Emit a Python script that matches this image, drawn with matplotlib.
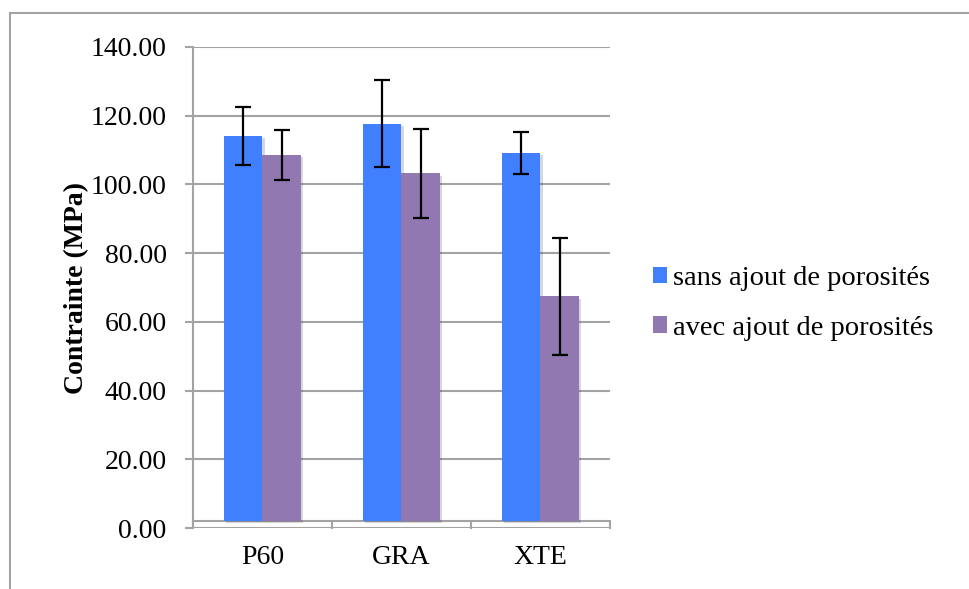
import numpy as np
import matplotlib
matplotlib.use("Agg")
import matplotlib.pyplot as plt
from matplotlib.patches import Patch
from matplotlib.lines import Line2D
import matplotlib.patheffects as pe

# data
categories = ["P60", "GRA", "XTE"]
series_names = ["sans ajout de porosités", "avec ajout de porosités"]
sans_vals = [114.2, 117.7, 109.1]
sans_err = [8.4, 12.7, 6.1]
avec_vals = [108.6, 103.2, 67.4]
avec_err = [7.3, 12.9, 17.1]
y_ticks = [0, 20, 40, 60, 80, 100, 120, 140]

blue = "#4080ff"
purple = "#9178b1"
grey = "#a3a3a3"

plt.rcParams['font.family'] = ['Liberation Serif', 'DejaVu Serif']

fig = plt.figure(figsize=(9.7, 5.89), dpi=100)
ax = fig.add_axes([193 / 970, 61 / 589, 417 / 970, 481 / 589])

x = np.arange(len(categories))
w = 0.278
base = 2.0  # the category axis sits a little above zero in the original

shadow = [pe.SimplePatchShadow(offset=(1.5, -1.5), alpha=0.18), pe.Normal()]
err_kw = dict(ecolor="black", elinewidth=1.6, capsize=5.8, capthick=1.6)

ax.bar(x - w / 2, np.array(sans_vals) - base, w, bottom=base, color=blue,
       yerr=sans_err, error_kw=err_kw, zorder=3, path_effects=shadow)
ax.bar(x + w / 2, np.array(avec_vals) - base, w, bottom=base, color=purple,
       yerr=avec_err, error_kw=err_kw, zorder=3, path_effects=shadow)

ax.set_xlim(-0.5, 2.5)
ax.set_ylim(0, 140)

ax.set_yticks(y_ticks)
ax.set_yticklabels([f"{v:.2f}" for v in y_ticks])
ax.yaxis.grid(True, color=grey, linewidth=1.5, zorder=0)
ax.set_axisbelow(True)

ax.set_xticks(x)
ax.set_xticklabels(categories)
ax.set_xticks(np.arange(-0.5, 3.0, 1.0), minor=True)
ax.tick_params(axis="x", which="major", length=0, pad=17, labelsize=20)
ax.tick_params(axis="x", which="minor", length=6, width=1.5, color=grey, direction="out")
ax.tick_params(axis="y", length=6, width=1.5, color=grey, pad=13, labelsize=20)

for s in ("top", "right"):
    ax.spines[s].set_visible(False)
for s in ("left", "bottom"):
    ax.spines[s].set_color(grey)
    ax.spines[s].set_linewidth(1.5)
ax.spines["bottom"].set_position(("data", base))

ax.set_ylabel("Contrainte (MPa)", fontsize=20, fontweight="bold", labelpad=1)

handles = [Patch(facecolor=blue, edgecolor="none"), Patch(facecolor=purple, edgecolor="none")]
ax.legend(handles, series_names, loc="center left",
          bbox_to_anchor=(653 / 970, 1 - 303.5 / 589), bbox_transform=fig.transFigure,
          frameon=False, fontsize=20.5, handlelength=0.5, handleheight=0.5,
          handletextpad=0.2, labelspacing=0.85, borderpad=0, borderaxespad=0)

# outer frame of the chart area
fig.add_artist(Line2D([10 / 970, 1.0], [1 - 13 / 589, 1 - 13 / 589],
                      transform=fig.transFigure, color=grey, linewidth=1.5))
fig.add_artist(Line2D([10 / 970, 10 / 970], [0.0, 1 - 13 / 589],
                      transform=fig.transFigure, color=grey, linewidth=1.5))

fig.savefig("out.png", dpi=100)
